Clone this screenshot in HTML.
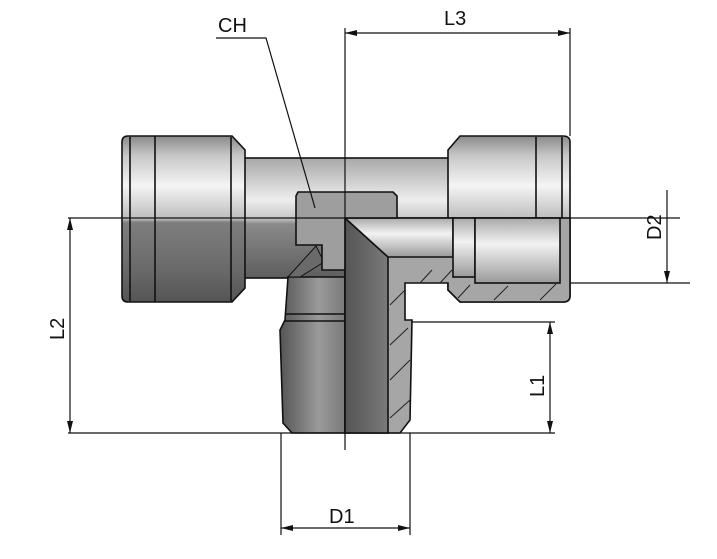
<!DOCTYPE html>
<html><head><meta charset="utf-8"><style>html,body{margin:0;padding:0;background:#fff}svg{display:block}</style></head>
<body>
<svg width="717" height="559" viewBox="0 0 717 559" xmlns="http://www.w3.org/2000/svg" font-family="Liberation Sans, DejaVu Sans, sans-serif">
<defs>
<linearGradient id="cyl" x1="0" y1="0" x2="0" y2="1">
<stop offset="0" stop-color="#8a8a8a"/><stop offset="0.12" stop-color="#c8c8c8"/><stop offset="0.3" stop-color="#f4f4f4"/><stop offset="0.5" stop-color="#bdbdbd"/><stop offset="0.52" stop-color="#7e7e7e"/><stop offset="0.8" stop-color="#6a6a6a"/><stop offset="1" stop-color="#555"/></linearGradient>
<linearGradient id="tube" x1="0" y1="0" x2="0" y2="1">
<stop offset="0" stop-color="#a8a8a8"/><stop offset="0.35" stop-color="#eeeeee"/><stop offset="0.5" stop-color="#c8c8c8"/><stop offset="0.55" stop-color="#8a8a8a"/><stop offset="1" stop-color="#5e5e5e"/></linearGradient>
<linearGradient id="stem" x1="0" y1="0" x2="1" y2="0">
<stop offset="0" stop-color="#555"/><stop offset="0.6" stop-color="#9a9a9a"/><stop offset="1" stop-color="#7a7a7a"/></linearGradient>
<linearGradient id="bore" x1="0" y1="0" x2="0" y2="1">
<stop offset="0" stop-color="#aaa"/><stop offset="0.4" stop-color="#f2f2f2"/><stop offset="1" stop-color="#9a9a9a"/></linearGradient>
<linearGradient id="stemcut" x1="0" y1="0" x2="1" y2="0">
<stop offset="0" stop-color="#555"/><stop offset="1" stop-color="#7a7a7a"/></linearGradient>
</defs>
<g stroke="#111" stroke-width="1.6">
<!-- main tube -->
<rect x="240" y="158" width="210" height="120" fill="url(#tube)"/>
<!-- left hex -->
<path d="M128 136 H232 L245 150 V288 L232 302 H128 Q122 302 122 296 V142 Q122 136 128 136 Z" fill="url(#cyl)"/>
<line x1="155" y1="136" x2="155" y2="302"/><line x1="130" y1="137" x2="130" y2="301"/><line x1="231" y1="137" x2="231" y2="301"/>
<!-- right hex -->
<path d="M460 136 H563 Q570 136 570 142 V296 Q570 302 563 302 H460 L448 290 V150 Z" fill="url(#cyl)"/>
<line x1="536" y1="137" x2="536" y2="218"/><line x1="562" y1="137" x2="562" y2="218"/>
<!-- stem -->
<path d="M288 277 H345 V433 H292 L283 423 L280 330 L285 320 Z" fill="url(#stem)"/>
<line x1="285" y1="314" x2="345" y2="314"/><line x1="285" y1="321" x2="345" y2="321"/>
<path d="M316 246 L324 262 L300 277 H288 Z" fill="#6a6a6a" stroke-width="1"/>
<!-- section right-lower -->
<path d="M345 218 H570 V296 Q570 302 563 302 H460 L448 290 V283 H405 V320 H412 L410 420 L400 433 H345 Z" fill="#a6a6a6"/>
<path d="M345 218 L388 257 V433 H345 Z" fill="url(#stemcut)"/>
<path d="M345 218 H453 V257 H388 Z" fill="url(#bore)"/>
<rect x="453" y="218" width="22" height="59" fill="url(#bore)"/>
<rect x="475" y="218" width="85" height="65" fill="url(#bore)"/>
<!-- hex socket (CH) -->
<path d="M298 192 H393 L397 196 V218 H345 V270 H322 V245 H296 V196 Z" fill="#9e9e9e"/>
</g>
<!-- hatch -->
<g stroke="#222" stroke-width="1">
<line x1="420" y1="283" x2="432" y2="270"/><line x1="440" y1="283" x2="452" y2="270"/><line x1="458" y1="298" x2="470" y2="285"/><line x1="494" y1="300" x2="508" y2="286"/><line x1="540" y1="300" x2="556" y2="284"/>
<line x1="390" y1="305" x2="405" y2="290"/><line x1="390" y1="345" x2="408" y2="328"/><line x1="390" y1="380" x2="410" y2="360"/><line x1="390" y1="418" x2="410" y2="400"/>
</g>
<!-- centerlines -->
<g stroke="#111" stroke-width="1.2" fill="none">
<line x1="68" y1="218" x2="590" y2="218"/>
<line x1="345" y1="28" x2="345" y2="450"/>
<line x1="570" y1="28" x2="570" y2="136"/>
<line x1="345" y1="33" x2="570" y2="33"/>
<line x1="68" y1="433" x2="555" y2="433"/>
<line x1="70" y1="218" x2="70" y2="433"/>
<line x1="570" y1="283" x2="690" y2="283"/>
<line x1="590" y1="218" x2="680" y2="218"/>
<line x1="667" y1="190" x2="667" y2="283"/>
<line x1="412" y1="322" x2="555" y2="322"/>
<line x1="550" y1="322" x2="550" y2="433"/>
<line x1="281" y1="433" x2="281" y2="535"/><line x1="410" y1="433" x2="410" y2="535"/>
<line x1="281" y1="528" x2="410" y2="528"/>
<polyline points="216,38 266,38 315,208"/>
</g>
<g fill="#111">
<path d="M345 33 l12 -3 v6z"/><path d="M570 33 l-12 -3 v6z"/>
<path d="M70 218 l-3 12 h6z"/><path d="M70 433 l-3 -12 h6z"/>
<path d="M667 283 l-3 -12 h6z"/>
<path d="M550 322 l-3 12 h6z"/><path d="M550 433 l-3 -12 h6z"/>
<path d="M281 528 l12 -3 v6z"/><path d="M410 528 l-12 -3 v6z"/>
</g>
<g font-size="20" fill="#111">
<text x="218" y="32">CH</text>
<text x="444" y="25">L3</text>
<text x="329" y="523">D1</text>
<text transform="translate(64,340) rotate(-90)">L2</text>
<text transform="translate(661,240) rotate(-90)">D2</text>
<text transform="translate(544,397) rotate(-90)">L1</text>
</g>
</svg>
</body></html>
